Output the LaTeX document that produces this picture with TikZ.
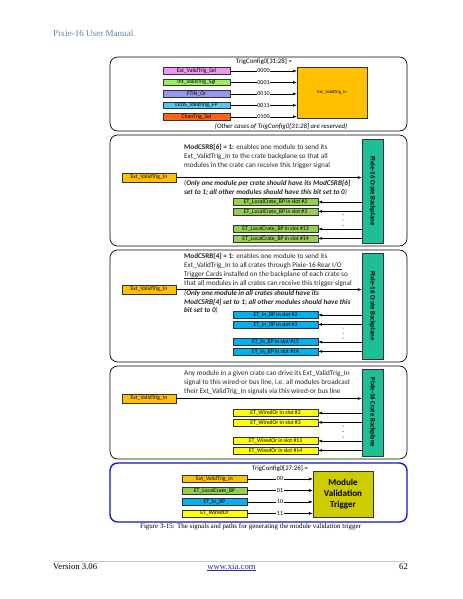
\documentclass[tikz,border=0pt]{standalone}
\usepackage{fontspec}
\setmainfont{Carlito}
\newfontfamily\pagefont{Liberation Serif}
\usetikzlibrary{arrows.meta,positioning,calc}
\definecolor{hdblue}{RGB}{95,130,170}
\definecolor{selpink}{RGB}{240,150,240}
\definecolor{selgreen}{RGB}{150,240,90}
\definecolor{selviolet}{RGB}{150,150,240}
\definecolor{selcyan}{RGB}{80,200,240}
\definecolor{selorange}{RGB}{255,100,20}
\definecolor{gold}{RGB}{255,192,0}
\definecolor{bpgreen}{RGB}{30,190,150}
\definecolor{lcgreen}{RGB}{146,208,80}
\definecolor{inblue}{RGB}{0,176,240}
\definecolor{woyellow}{RGB}{255,255,0}
\definecolor{mvolive}{RGB}{204,204,0}
\definecolor{frameblue}{RGB}{20,20,200}
\definecolor{linkblue}{RGB}{40,40,170}

\begin{document}
\begin{tikzpicture}[x=1.3218pt,y=-1.3218pt,node distance=5.8pt,
  panel/.style={draw,line width=0.9pt,rounded corners=10pt},
  box/.style={draw=black!80,line width=0.6pt,inner sep=0pt,font=\fontsize{7.5}{8}\selectfont},
  sel/.style={box,minimum width=88.6pt,minimum height=8.7pt},
  slot/.style={box,minimum width=112.4pt,minimum height=9.25pt},
  extbox/.style={box,fill=gold,minimum width=71.4pt,minimum height=11.9pt},
  bp/.style={draw=black!80,fill=bpgreen,line width=0.6pt,minimum width=27.8pt,inner sep=0pt,font=\fontsize{9}{10}\selectfont\bfseries},
  txt/.style={anchor=north west,inner sep=0pt,align=left,font=\fontsize{9.5}{11.5}\selectfont,text=black!85},
  note/.style={txt,font=\fontsize{9.5}{11.5}\selectfont\bfseries\itshape},
  lbl/.style={fill=white,inner sep=0.8pt,font=\fontsize{8}{9}\selectfont},
  arr/.style={-{Latex[length=5pt,width=3.6pt]},line width=0.5pt}]
\useasboundingbox (0,0) rectangle (463,599);
% page head
\node[anchor=west,inner sep=0pt,font=\pagefont\fontsize{12}{14}\selectfont,text=hdblue] (hd) at (53,33) {Pixie-16 User Manual};

% trigger source select
\draw[panel] (110,57) rectangle (407,131);
\node[font=\fontsize{9}{10}\selectfont] (tc1) at (264,62) {TrigConfig0[31:28] =};
\node[sel,fill=selpink] (s1) at (196.5,71) {Ext\_ValidTrig\_Sel};
\node[sel,fill=selgreen,below=of s1] (s2) {Int\_ValidTrig\_Sgl};
\node[sel,fill=selviolet,below=of s2] (s3) {FTIN\_Or};
\node[sel,fill=selcyan,below=of s3] (s4) {LVDS\_ValidTrig\_FP};
\node[sel,fill=selorange,below=of s4] (s5) {ChanTrig\_Sel};
\node[box,fill=gold,minimum width=92.5pt,minimum height=67.4pt,font=\fontsize{6}{7}\selectfont] (y1) at (332,92.5) {Ext\_ValidTrig\_In};
\draw[arr] (s1.east) -- node[lbl]{0000} (s1.east -| y1.west);
\draw[arr] (s2.east) -- node[lbl]{0001} (s2.east -| y1.west);
\draw[arr] (s3.east) -- node[lbl]{0010} (s3.east -| y1.west);
\draw[arr] (s4.east) -- node[lbl]{0011} (s4.east -| y1.west);
\draw[arr] (s5.east) -- node[lbl]{0100} (s5.east -| y1.west);
\node[font=\fontsize{9}{10}\selectfont\itshape] (oc) at (281,127) {(Other cases of TrigConfig0[31:28] are reserved)};

% local crate backplane
\draw[panel] (110,135) rectangle (407,246);
\node[bp,minimum height=137.5pt] (bp2) at (372.5,191) {\rotatebox{-90}{Pixie-16 Crate Backplane}};
\node[txt] (t2) at (184,144.5) {\textbf{ModCSRB[6] = 1:} enables one module to send its\\Ext\_ValidTrig\_In to the crate backplane so that all\\modules in the crate can receive this trigger signal};
\node[extbox] (e2) at (149,177.5) {Ext\_ValidTrig\_In};
\node[note] (n2) at (184,180.5) {\textmd{(}Only one module per crate should have its ModCSRB[6]\\set to 1; all other modules should have this bit set to 0\textmd{)}};
\node[slot,fill=lcgreen] (l1) at (275.5,202) {ET\_LocalCrate\_BP in slot \#2};
\node[slot,fill=lcgreen,below=2.6pt of l1] (l2) {ET\_LocalCrate\_BP in slot \#3};
\node[slot,fill=lcgreen] (l3) at (275.5,229) {ET\_LocalCrate\_BP in slot \#13};
\node[slot,fill=lcgreen,below=2.6pt of l3] (l4) {ET\_LocalCrate\_BP in slot \#14};
\draw[arr] (e2.east) -- (e2.east -| bp2.west);
\draw[arr] (l1.east -| bp2.west) -- (l1.east); \draw[arr] (l2.east -| bp2.west) -- (l2.east);
\draw[arr] (l3.east -| bp2.west) -- (l3.east); \draw[arr] (l4.east -| bp2.west) -- (l4.east);
\fill (343,214.5) circle (0.5) (343,220) circle (0.5) (343,225.5) circle (0.5);

% all crates via rear I/O cards
\draw[panel] (110,250) rectangle (407,362);
\node[bp,minimum height=140pt] (bp3) at (372.5,306) {\rotatebox{-90}{Pixie-16 Crate Backplane}};
\node[txt] (t3) at (184,253.5) {\textbf{ModCSRB[4] = 1:} enables one module to send its\\Ext\_ValidTrig\_In to all crates through \underline{Pixie-16 Rear I/O}\\\underline{Trigger Cards} installed on the backplane of each crate so\\that all modules in all crates can receive this trigger signal};
\node[extbox] (e3) at (149,289.5) {Ext\_ValidTrig\_In};
\node[note] (n3) at (184,290) {\textmd{(}Only one module in all crates should have its\\ModCSRB[4] set to 1; all other modules should have this\\bit set to 0\textmd{)}};
\node[slot,fill=inblue] (b1) at (275.5,315) {ET\_In\_BP in slot \#2};
\node[slot,fill=inblue,below=2.6pt of b1] (b2) {ET\_In\_BP in slot \#3};
\node[slot,fill=inblue] (b3) at (275.5,342) {ET\_In\_BP in slot \#13};
\node[slot,fill=inblue,below=2.6pt of b3] (b4) {ET\_In\_BP in slot \#14};
\draw[arr] (e3.east) -- (e3.east -| bp3.west);
\draw[arr] (b1.east -| bp3.west) -- (b1.east); \draw[arr] (b2.east -| bp3.west) -- (b2.east);
\draw[arr] (b3.east -| bp3.west) -- (b3.east); \draw[arr] (b4.east -| bp3.west) -- (b4.east);
\fill (343,328) circle (0.5) (343,333) circle (0.5) (343,338) circle (0.5);

% wired-or bus line
\draw[panel] (110,366) rectangle (407,459);
\node[bp,minimum height=115pt] (bp4) at (372.5,412.5) {\rotatebox{-90}{Pixie-16 Crate Backplane}};
\node[txt] (t4) at (184,370.5) {Any module in a given crate can drive its Ext\_ValidTrig\_In\\signal to this wired-or bus line, i.e. all modules broadcast\\their Ext\_ValidTrig\_In signals via this wired-or bus line};
\node[extbox] (e4) at (149,398.5) {Ext\_ValidTrig\_In};
\node[slot,fill=woyellow] (w1) at (275.5,413) {ET\_WiredOr in slot \#2};
\node[slot,fill=woyellow,below=2.6pt of w1] (w2) {ET\_WiredOr in slot \#3};
\node[slot,fill=woyellow] (w3) at (275.5,441) {ET\_WiredOr in slot \#13};
\node[slot,fill=woyellow,below=2.6pt of w3] (w4) {ET\_WiredOr in slot \#14};
\draw[arr] (e4.east) -- (e4.east -| bp4.west);
\draw[arr] (w1.east -| bp4.west) -- (w1.east); \draw[arr] (w2.east -| bp4.west) -- (w2.east);
\draw[arr] (w3.east -| bp4.west) -- (w3.east); \draw[arr] (w4.east -| bp4.west) -- (w4.east);
\fill (343,426) circle (0.5) (343,431.5) circle (0.5) (343,437) circle (0.5);

% module validation trigger select
\draw[panel,draw=frameblue,line width=1.8pt] (110,463) rectangle (407,522);
\node[font=\fontsize{9}{10}\selectfont] (tc2) at (280,469) {TrigConfig0[27:26] =};
\node[box,fill=gold,minimum width=86pt,minimum height=9.25pt] (m1) at (214.5,479) {Ext\_ValidTrig\_In};
\node[box,fill=lcgreen,minimum width=86pt,minimum height=9.25pt,below=5.3pt of m1] (m2) {ET\_LocalCrate\_BP};
\node[box,fill=inblue,minimum width=86pt,minimum height=9.25pt,below=5.3pt of m2] (m3) {ET\_In\_BP};
\node[box,fill=woyellow,minimum width=86pt,minimum height=9.25pt,below=5.3pt of m3] (m4) {ET\_WiredOr};
\node[box,fill=mvolive,minimum width=79.3pt,minimum height=60.8pt,align=center,font=\fontsize{12}{15}\selectfont\bfseries] (mv) at (343,494) {Module\\Validation\\Trigger};
\draw[arr] (m1.east) -- node[lbl]{00} (m1.east -| mv.west);
\draw[arr] (m2.east) -- node[lbl]{01} (m2.east -| mv.west);
\draw[arr] (m3.east) -- node[lbl]{10} (m3.east -| mv.west);
\draw[arr] (m4.east) -- node[lbl]{11} (m4.east -| mv.west);
\node[anchor=west,inner sep=0pt,font=\pagefont\fontsize{9.2}{11}\selectfont] (cap) at (140,527) {Figure 3-15: The signals and paths for generating the module validation trigger};

% page foot
\draw[black!20,line width=0.6pt] (53,561) coordinate (fl) -- (405,561) coordinate (fr);
\node[anchor=west,inner sep=0pt,font=\pagefont\fontsize{11.5}{13}\selectfont] (ver) at (53,567) {Version 3.06};
\node[inner sep=0pt,font=\pagefont\fontsize{11.5}{13}\selectfont,text=linkblue] (url) at (231.5,567) {\underline{www.xia.com}};
\node[anchor=east,inner sep=0pt,font=\pagefont\fontsize{11.5}{13}\selectfont] (pg) at (408,567) {62};
\end{tikzpicture}
\end{document}
